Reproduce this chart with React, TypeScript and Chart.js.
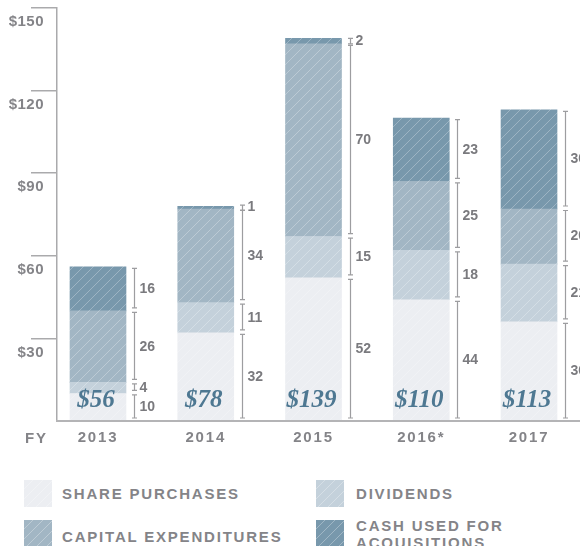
import React, { useEffect, useRef } from 'react';
import { Chart, registerables } from 'chart.js';

Chart.register(...registerables);

const years = ['2013', '2014', '2015', '2016*', '2017'];
const sharePurchases = [10, 32, 52, 44, 36];
const dividends = [4, 11, 15, 18, 21];
const capitalExpenditures = [26, 34, 70, 25, 20];
const acquisitions = [16, 1, 2, 23, 36];
const yTicks = [0, 30, 60, 90, 120, 150];
const seriesNames = ['SHARE PURCHASES', 'DIVIDENDS', 'CAPITAL EXPENDITURES', 'CASH USED FOR ACQUISITIONS'];
const seriesColors = ['#eceef2', '#c4d1db', '#a2b6c4', '#7898ac'];

const SANS = '"Liberation Sans", Arial, sans-serif';
const GREY = '#848488';

function makePattern(color: string): CanvasPattern | string {
  const c = document.createElement('canvas');
  c.width = 10;
  c.height = 10;
  const g = c.getContext('2d');
  if (!g) return color;
  g.fillStyle = color;
  g.fillRect(0, 0, 10, 10);
  g.strokeStyle = 'rgba(255,255,255,0.28)';
  g.lineWidth = 1;
  g.beginPath();
  g.moveTo(-1, 11);
  g.lineTo(11, -1);
  g.moveTo(-1, 1);
  g.lineTo(1, -1);
  g.moveTo(9, 11);
  g.lineTo(11, 9);
  g.stroke();
  return g.createPattern(c, 'repeat') || color;
}

const annotate = {
  id: 'annotate',
  beforeDraw(chart: any) {
    chart.ctx.letterSpacing = '0.5px';
  },
  afterDatasetsDraw(chart: any) {
    const ctx = chart.ctx as CanvasRenderingContext2D;
    const x = chart.scales.x;
    const y = chart.scales.y;
    const series = [sharePurchases, dividends, capitalExpenditures, acquisitions];
    ctx.save();
    years.forEach((_, i) => {
      const cx = x.getPixelForValue(i);
      const bx = Math.round(cx + 36) + 0.5;
      let base = 0;
      series.forEach((s) => {
        const v = s[i];
        const yb = y.getPixelForValue(base);
        const yt = y.getPixelForValue(base + v);
        const len = yb - yt;
        let y1: number, y2: number;
        if (len > 10) {
          y1 = yt + 1.5;
          y2 = yb - 3;
        } else {
          const mid = (yb + yt) / 2;
          const l = Math.max(len, 5);
          y1 = mid - l / 2;
          y2 = mid + l / 2;
        }
        ctx.strokeStyle = '#9d9da0';
        ctx.lineWidth = 1.2;
        ctx.beginPath();
        ctx.moveTo(bx, y1);
        ctx.lineTo(bx, y2);
        ctx.moveTo(bx - 2.5, y1);
        ctx.lineTo(bx + 2.5, y1);
        ctx.moveTo(bx - 2.5, y2);
        ctx.lineTo(bx + 2.5, y2);
        ctx.stroke();
        ctx.font = `bold 14px ${SANS}`;
        (ctx as any).letterSpacing = '0px';
        ctx.fillStyle = '#7a7a7e';
        ctx.textAlign = 'left';
        ctx.textBaseline = 'middle';
        ctx.fillText(String(v), bx + 5, (yb + yt) / 2);
        base += v;
      });
      ctx.font = 'italic bold 25px "Liberation Serif", "Times New Roman", serif';
      (ctx as any).letterSpacing = '0px';
      ctx.fillStyle = '#4e7892';
      ctx.textAlign = 'center';
      ctx.textBaseline = 'alphabetic';
      ctx.fillText('$' + base, cx - 2, y.getPixelForValue(0) - 14);
    });
    ctx.restore();
    (ctx as any).letterSpacing = '1.8px';
  },
  afterDraw(chart: any) {
    const ctx = chart.ctx as CanvasRenderingContext2D;
    const y = chart.scales.y;
    ctx.save();
    ctx.font = `bold 15px ${SANS}`;
    (ctx as any).letterSpacing = '1.8px';
    ctx.fillStyle = GREY;
    ctx.textAlign = 'left';
    ctx.textBaseline = 'middle';
    ctx.fillText('FY', 25, y.getPixelForValue(0) + 18);
    ctx.restore();
  },
};

function Swatch({ color, left, top }: { color: string; left: number; top: number }) {
  return (
    <div
      style={{
        position: 'absolute',
        left,
        top,
        width: 28,
        height: 27,
        backgroundColor: color,
        backgroundImage:
          'repeating-linear-gradient(135deg, rgba(255,255,255,0) 0px, rgba(255,255,255,0) 6px, rgba(255,255,255,0.3) 6px, rgba(255,255,255,0.3) 7px)',
      }}
    />
  );
}

function LegendText({ text, left, top, width }: { text: string; left: number; top: number; width?: number }) {
  return (
    <div
      style={{
        position: 'absolute',
        left,
        top,
        width: width ?? 260,
        font: `bold 15px ${SANS}`,
        lineHeight: '17px',
        letterSpacing: '1.8px',
        color: GREY,
      }}
    >
      {text}
    </div>
  );
}

export default function App() {
  const canvasRef = useRef<HTMLCanvasElement | null>(null);

  useEffect(() => {
    const canvas = canvasRef.current;
    if (!canvas) return;
    const series = [sharePurchases, dividends, capitalExpenditures, acquisitions];
    const chart = new Chart(canvas, {
      type: 'bar',
      data: {
        datasets: series.map((s, k) => ({
          label: seriesNames[k],
          data: s.map((v, i) => ({ x: i, y: v })),
          backgroundColor: makePattern(seriesColors[k]) as any,
          borderWidth: 0,
          barThickness: 56,
        })),
      },
      options: {
        responsive: false,
        animation: false,
        layout: { padding: { top: 8, left: 0, right: 0, bottom: 0 } },
        plugins: { legend: { display: false }, tooltip: { enabled: false } },
        scales: {
          x: {
            type: 'linear',
            stacked: true,
            offset: false,
            min: -0.3805,
            max: 5.03,
            afterBuildTicks: (s: any) => {
              s.ticks = years.map((_, i) => ({ value: i }));
            },
            afterFit: (s: any) => {
              s.height = 39;
            },
            grid: { display: false, drawTicks: false, offset: false },
            border: { display: true, color: '#b4b4b6', width: 2, z: 1 },
            ticks: {
              z: 1,
              callback: (v: any) => years[v] ?? '',
              color: GREY,
              font: { family: SANS, size: 15, weight: 'bold' },
              padding: 8,
              maxRotation: 0,
              autoSkip: false,
            },
          },
          y: {
            stacked: true,
            min: 0,
            max: 150,
            afterBuildTicks: (s: any) => {
              s.ticks = yTicks.map((v) => ({ value: v }));
            },
            afterFit: (s: any) => {
              s.width = 57;
            },
            grid: {
              drawOnChartArea: false,
              drawTicks: true,
              tickLength: 26,
              lineWidth: 1.5,
              tickColor: (c: any) => (c.tick && c.tick.value === 0 ? 'rgba(0,0,0,0)' : '#aaaaac'),
            },
            border: { display: true, color: '#aaaaac', width: 1.5 },
            ticks: {
              callback: (v: any) => (v === 0 ? '' : '$' + v),
              color: GREY,
              font: { family: SANS, size: 15, weight: 'bold' },
              padding: -13,
              labelOffset: 14,
            },
          },
        },
      },
      plugins: [annotate],
    } as any);
    return () => chart.destroy();
  }, []);

  return (
    <div style={{ position: 'absolute', left: 0, top: 0, width: 580, height: 546, overflow: 'hidden', background: '#fff' }}>
      <canvas ref={canvasRef} width={640} height={460} style={{ position: 'absolute', left: 0, top: 0 }} />
      <Swatch color={seriesColors[0]} left={24} top={480} />
      <LegendText text={seriesNames[0]} left={62} top={485} />
      <Swatch color={seriesColors[1]} left={316} top={480} />
      <LegendText text={seriesNames[1]} left={356} top={485} />
      <Swatch color={seriesColors[2]} left={24} top={520} />
      <LegendText text={seriesNames[2]} left={62} top={528} />
      <Swatch color={seriesColors[3]} left={316} top={520} />
      <LegendText text={seriesNames[3]} left={356} top={517} width={170} />
    </div>
  );
}
